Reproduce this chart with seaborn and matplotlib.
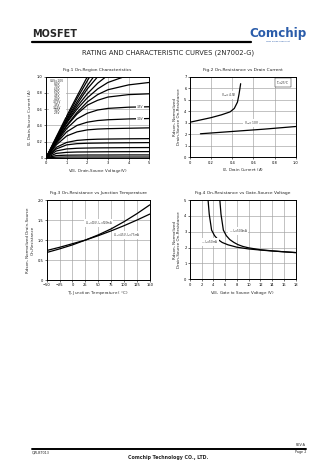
import matplotlib
matplotlib.use("Agg")
import matplotlib.pyplot as plt
import seaborn as sns
import pandas as pd

# ---------------- data ----------------
# Fig.1 On-region characteristics (VDS grid, one list per VGS curve)
vds_grid = [0, 0.5, 1, 1.5, 2, 2.5, 3, 4, 5]
fig1_curves = {
    "A": [0, 0.26, 0.515, 0.76, 1.0, 1.22],
    "B": [0, 0.25, 0.49, 0.73, 0.95, 1.16],
    "C": [0, 0.24, 0.47, 0.69, 0.89, 1.07],
    "D": [0, 0.23, 0.46, 0.66, 0.85, 1.0, 1.13],
    "E": [0, 0.23, 0.44, 0.63, 0.79, 0.92, 1.02],
    "F": [0, 0.22, 0.43, 0.60, 0.74, 0.85, 0.93, 1.02],
    "G": [0, 0.21, 0.40, 0.56, 0.69, 0.78, 0.84, 0.90, 0.93],
    "H": [0, 0.20, 0.39, 0.54, 0.65, 0.71, 0.75, 0.78, 0.79],
    "I": [0, 0.19, 0.36, 0.48, 0.55, 0.59, 0.61, 0.625, 0.63],
    "J": [0, 0.18, 0.32, 0.40, 0.44, 0.46, 0.47, 0.48, 0.485],
    "K": [0, 0.16, 0.27, 0.32, 0.345, 0.355, 0.36, 0.365, 0.37],
    "L": [0, 0.13, 0.19, 0.215, 0.225, 0.23, 0.232, 0.235, 0.237],
    "M": [0, 0.11, 0.16, 0.175, 0.18, 0.182, 0.184, 0.186, 0.188],
    "N": [0, 0.085, 0.11, 0.118, 0.121, 0.123, 0.124, 0.126, 0.127],
    "O": [0, 0.055, 0.068, 0.072, 0.073, 0.074, 0.075, 0.076, 0.077],
    "P": [0, 0.028, 0.033, 0.034, 0.035, 0.035, 0.035, 0.036, 0.036],
    "Q": [0, 0.008, 0.01, 0.01, 0.01, 0.01, 0.01, 0.01, 0.01],
}
fig1_legend = ["VGS=10V", "8.0V", "7.0V", "6.0V", "5.0V", "4.5V", "4.0V",
               "3.75V", "3.5V", "3.25V", "3.0V", "2.5V"]

# Fig.2 On-resistance vs drain current
f2_x45 = [0, 0.1, 0.2, 0.3, 0.38, 0.42, 0.45, 0.465, 0.48]
f2_y45 = [3.05, 3.25, 3.45, 3.7, 3.95, 4.25, 4.8, 5.5, 6.4]
f2_x10 = [0.1, 0.4, 0.7, 1.0]
f2_y10 = [2.05, 2.25, 2.45, 2.68]

# Fig.3 On-resistance vs junction temperature
f3_t = [-50, -25, 0, 25, 50, 75, 100, 125, 150]
f3_r10 = [0.69, 0.78, 0.88, 1.0, 1.13, 1.28, 1.46, 1.66, 1.88]
f3_r45 = [0.74, 0.82, 0.91, 1.0, 1.11, 1.23, 1.36, 1.50, 1.65]

# Fig.4 On-resistance vs gate-source voltage
f4_x50 = [3.1, 3.3, 3.7, 4.2, 4.8, 5.5, 6.5, 8, 10, 12, 14, 16, 18]
f4_y50 = [5.0, 4.1, 3.1, 2.75, 2.5, 2.32, 2.17, 2.02, 1.91, 1.84, 1.78, 1.73, 1.68]
f4_x500 = [5.1, 5.3, 5.7, 6.2, 6.8, 7.5, 8.2, 9, 10, 12, 14, 16, 18]
f4_y500 = [5.0, 4.1, 3.1, 2.75, 2.5, 2.32, 2.18, 2.07, 1.98, 1.86, 1.79, 1.73, 1.68]

# ---------------- style ----------------
sns.set_theme(style="ticks")
plt.rcParams["font.family"] = ["DejaVu Sans"]

fig = plt.figure(figsize=(3.36, 4.74), dpi=100)
fig.patch.set_facecolor("white")

TS = 2.6   # tick label size
LS = 2.9   # axis label size
WB = dict(facecolor="white", edgecolor="none", pad=0.3)


def style_ax(ax):
    ax.set_facecolor("white")
    ax.grid(True, color="#a0a0a0", lw=0.45)
    for s in ax.spines.values():
        s.set_color("black")
        s.set_linewidth(0.7)
    ax.tick_params(labelsize=TS, length=1.2, width=0.4, pad=1.2, colors="black")


# ---------- Fig 1 ----------
ax1 = fig.add_axes([0.137, 0.667, 0.307, 0.171])
rows = []
for name, vals in fig1_curves.items():
    for v, i in zip(vds_grid, vals):
        rows.append({"VDS": v, "ID": i, "curve": name})
df1 = pd.DataFrame(rows)
sns.lineplot(data=df1, x="VDS", y="ID", units="curve", estimator=None,
             color="black", lw=0.9, ax=ax1, legend=False)
ax1.set_xlim(0, 5)
ax1.set_ylim(0, 1.0)
ax1.set_xticks([0, 1, 2, 3, 4, 5])
ax1.set_yticks([0, 0.2, 0.4, 0.6, 0.8, 1.0])
ax1.set_yticklabels(["0", "0.2", "0.4", "0.6", "0.8", "1.0"])
style_ax(ax1)
ax1.set_xlabel("V$_{DS}$, Drain-Source Voltage(V)", fontsize=LS, labelpad=1.5)
ax1.set_ylabel("I$_D$, Drain-Source Current (A)", fontsize=LS, labelpad=2)
ax1.set_title("Fig.1 On-Region Characteristics", fontsize=3.2, pad=4)
ax1.add_patch(plt.Rectangle((0.15, 0.5), 0.8, 0.47, facecolor="white",
                            edgecolor="none", zorder=4))
for k, lab in enumerate(fig1_legend):
    ax1.text(0.55, 0.945 - k * 0.036, lab, fontsize=2.1, ha="center",
             va="center", zorder=5)
ax1.text(4.55, 0.63, "3.5V", fontsize=2.1, ha="center", va="center", bbox=WB)
ax1.text(4.55, 0.48, "3.0V", fontsize=2.1, ha="center", va="center", bbox=WB)

# ---------- Fig 2 ----------
ax2 = fig.add_axes([0.565, 0.668, 0.315, 0.170])
sns.lineplot(x=f2_x45, y=f2_y45, color="black", lw=0.9, ax=ax2, sort=False)
sns.lineplot(x=f2_x10, y=f2_y10, color="black", lw=0.9, ax=ax2, sort=False)
ax2.set_xlim(0, 1.0)
ax2.set_ylim(0, 7)
ax2.set_xticks([0, 0.2, 0.4, 0.6, 0.8, 1.0])
ax2.set_xticklabels(["0", "0.2", "0.4", "0.6", "0.8", "1.0"])
ax2.set_yticks(range(0, 8))
style_ax(ax2)
ax2.set_xlabel("I$_D$, Drain Current (A)", fontsize=LS, labelpad=1.5)
ax2.set_ylabel("Rdson, Normalized\nDrain-Source On-Resistance", fontsize=LS,
               labelpad=2, linespacing=1.1)
ax2.set_title("Fig.2 On-Resistance vs Drain Current", fontsize=3.2, pad=4)
ax2.text(0.37, 5.4, "V$_{GS}$=4.5V", fontsize=2.1, ha="center", va="center", bbox=WB)
ax2.text(0.58, 3.0, "V$_{GS}$=10V", fontsize=2.1, ha="center", va="center", bbox=WB)
ax2.text(0.88, 6.5, "T$_J$=25°C", fontsize=2.1, ha="center", va="center",
         bbox=dict(facecolor="white", edgecolor="black", lw=0.3, pad=0.8))

# ---------- Fig 3 ----------
ax3 = fig.add_axes([0.139, 0.409, 0.307, 0.169])
sns.lineplot(x=f3_t, y=f3_r10, color="black", lw=0.9, ax=ax3)
sns.lineplot(x=f3_t, y=f3_r45, color="black", lw=0.9, ax=ax3)
ax3.set_xlim(-50, 150)
ax3.set_ylim(0, 2.0)
ax3.set_xticks(range(-50, 151, 25))
ax3.set_yticks([0, 0.5, 1.0, 1.5, 2.0])
ax3.set_yticklabels(["0", "0.5", "1.0", "1.5", "2.0"])
style_ax(ax3)
ax3.set_xlabel("T$_J$, Junction Temperature ( °C)", fontsize=LS, labelpad=1.5)
ax3.set_ylabel("Rdson, Normalized Drain-Source\nOn-Resistance", fontsize=LS,
               labelpad=2, linespacing=1.1)
ax3.set_title("Fig.3 On-Resistance vs Junction Temperature", fontsize=3.2, pad=4)
ax3.text(24, 1.43, "V$_{GS}$=10V, I$_D$=500mA", fontsize=1.8, ha="left",
         va="center", bbox=WB)
ax3.text(78, 1.12, "V$_{GS}$=4.5V, I$_D$=75mA", fontsize=1.8, ha="left",
         va="center", bbox=WB)

# ---------- Fig 4 ----------
ax4 = fig.add_axes([0.565, 0.411, 0.315, 0.167])
sns.lineplot(x=f4_x50, y=f4_y50, color="black", lw=0.9, ax=ax4, sort=False)
sns.lineplot(x=f4_x500, y=f4_y500, color="black", lw=0.9, ax=ax4, sort=False)
ax4.set_xlim(0, 18)
ax4.set_ylim(0, 5)
ax4.set_xticks(range(0, 19, 2))
ax4.set_yticks(range(0, 6))
style_ax(ax4)
ax4.set_xlabel("V$_{GS}$, Gate to Source Voltage (V)", fontsize=LS, labelpad=1.5)
ax4.set_ylabel("Rdson, Normalized\nDrain-Source On-Resistance", fontsize=LS,
               labelpad=2, linespacing=1.1)
ax4.set_title("Fig.4 On-Resistance vs Gate-Source Voltage", fontsize=3.2, pad=4)
ax4.text(6.6, 3.05, "— I$_D$=500mA", fontsize=1.9, ha="left", va="center", bbox=WB)
ax4.text(1.9, 2.35, "— I$_D$=50mA", fontsize=1.9, ha="left", va="center", bbox=WB)

# ---------- header / footer ----------
W, H = 336.0, 474.0
def fx(x): return x / W
def fy(y): return 1 - y / H

fig.text(fx(32), fy(34), "MOSFET", fontsize=7, fontweight="bold",
         ha="left", va="center")
fig.add_artist(plt.Line2D([fx(32), fx(251)], [fy(42), fy(42)],
                          color="black", lw=1.6))
fig.text(fx(278), fy(33), "Comchip", fontsize=8.6, color="#2a5caa",
         ha="center", va="center", fontweight="bold")
fig.text(fx(278), fy(41.5), "SMD Diode Specialist", fontsize=1.6,
         color="#2a5caa", ha="center", va="center")
fig.text(0.5, fy(53), "RATING AND CHARACTERISTIC CURVES (2N7002-G)",
         fontsize=4.9, ha="center", va="center")

fig.add_artist(plt.Line2D([fx(32), fx(306)], [fy(449), fy(449)],
                          color="black", lw=1.4))
fig.text(fx(32), fy(452.5), "QW-BT013", fontsize=2.4, ha="left", va="center")
fig.text(fx(306), fy(445), "REV:A", fontsize=2.4, ha="right", va="center")
fig.text(fx(306), fy(452.5), "Page 2", fontsize=2.4, ha="right", va="center")
fig.text(0.5, fy(458), "Comchip Technology CO., LTD.", fontsize=3.4,
         fontweight="bold", ha="center", va="center")

fig.savefig("out.png", dpi=100, facecolor="white")
